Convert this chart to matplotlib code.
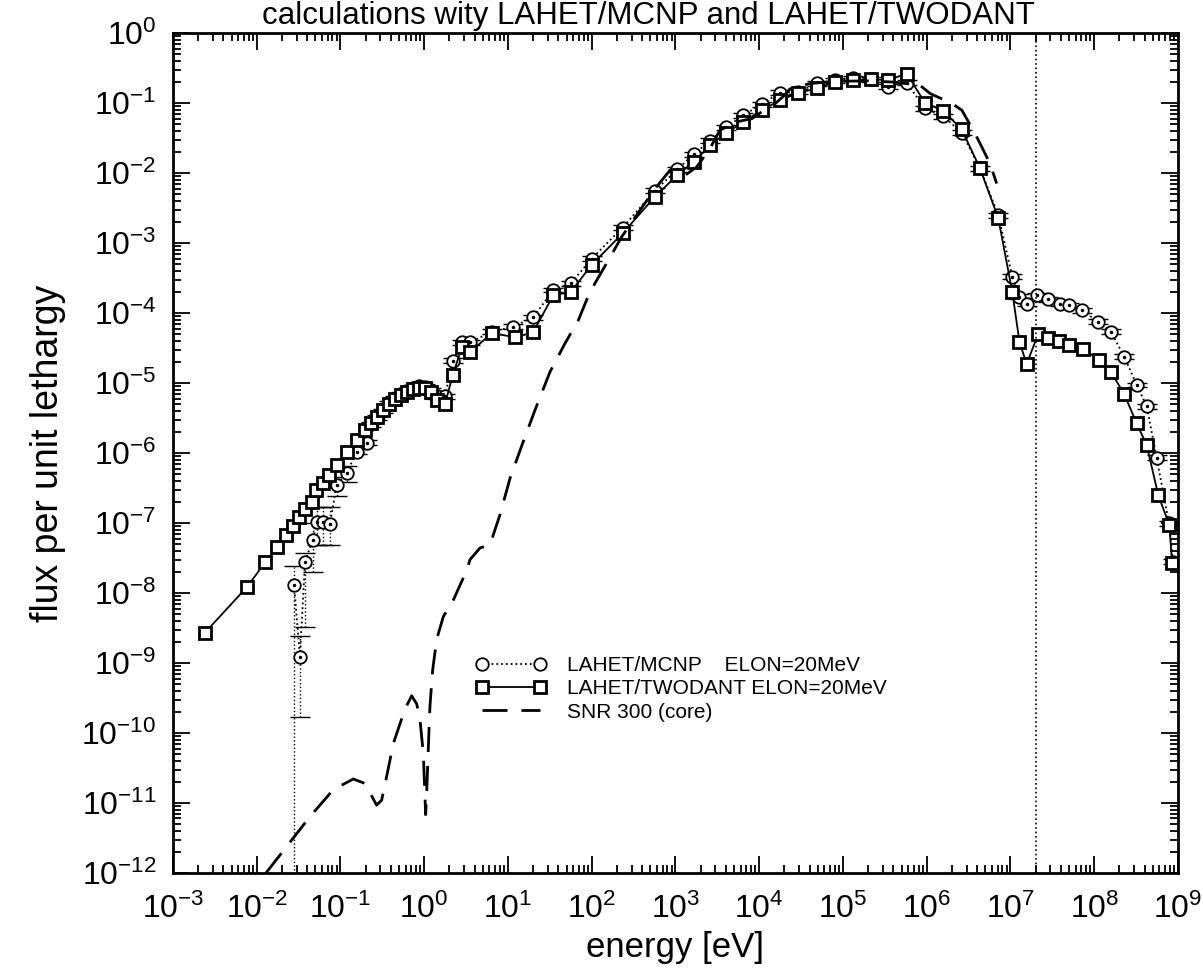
import numpy as np
import matplotlib.pyplot as plt
from matplotlib.ticker import LogLocator, NullFormatter

plt.rcParams['font.family'] = ['Liberation Sans', 'DejaVu Sans']

# LAHET/TWODANT ELON=20MeV  (energy [eV], flux per unit lethargy)
twod_e = [2.4e-3, 7.7e-3, 1.26e-2, 1.76e-2, 2.23e-2, 2.74e-2, 3.22e-2, 3.77e-2, 4.53e-2,
          5.16e-2, 6.12e-2, 7.36e-2, 9.0e-2, 0.119, 0.156, 0.196, 0.231, 0.273, 0.321,
          0.379, 0.448, 0.527, 0.622, 0.735, 0.865, 1.02, 1.2, 1.42, 1.77, 2.19, 2.82,
          3.52, 6.44, 12.1, 19.9, 34.8, 56.1, 100, 234, 569, 1050, 1660, 2580, 4010,
          6460, 1.07e4, 1.77e4, 2.93e4, 4.85e4, 8.04e4, 1.31e5, 2.14e5, 3.48e5, 5.77e5,
          9.53e5, 1.58e6, 2.62e6, 4.33e6, 7.16e6, 1.05e7, 1.28e7, 1.56e7, 2.15e7, 2.79e7,
          3.83e7, 5.05e7, 7.28e7, 1.15e8, 1.58e8, 2.29e8, 3.21e8, 4.23e8, 5.82e8, 7.9e8,
          8.5e8]
twod_f = [2.7e-9, 1.23e-8, 2.75e-8, 4.5e-8, 6.8e-8, 9.1e-8, 1.23e-7, 1.58e-7, 2.0e-7,
          2.95e-7, 3.7e-7, 4.9e-7, 6.8e-7, 1.05e-6, 1.55e-6, 2.14e-6, 2.69e-6, 3.27e-6,
          4.1e-6, 5.0e-6, 5.9e-6, 6.7e-6, 7.4e-6, 8.2e-6, 8.5e-6, 8.5e-6, 7.4e-6, 5.7e-6,
          5.0e-6, 1.3e-5, 3.3e-5, 2.77e-5, 5.2e-5, 4.5e-5, 5.3e-5, 1.8e-4, 2.0e-4, 4.9e-4,
          1.38e-3, 4.6e-3, 9.4e-3, 1.45e-2, 2.5e-2, 3.7e-2, 5.4e-2, 7.9e-2, 0.110, 0.140,
          0.162, 0.201, 0.213, 0.218, 0.213, 0.265, 0.101, 0.0776, 0.0421, 0.01167, 2.25e-3,
          2.01e-4, 3.9e-5, 1.87e-5, 5.1e-5, 4.35e-5, 4.0e-5, 3.5e-5, 3.1e-5, 2.14e-5,
          1.45e-5, 6.9e-6, 2.65e-6, 1.3e-6, 2.5e-7, 9.3e-8, 2.7e-8]

# LAHET/MCNP ELON=20MeV
mcnp_e = [2.79e-2, 3.28e-2, 3.77e-2, 4.66e-2, 5.2e-2, 6.24e-2, 7.5e-2, 9.0e-2, 0.119,
          0.156, 0.206, 0.231, 0.273, 0.321, 0.379, 0.448, 0.527, 0.622, 0.735, 0.865,
          1.02, 1.2, 1.42, 1.77, 2.19, 2.82, 3.52, 6.44, 11.6, 20, 34.8, 56.1, 100, 234,
          569, 1050, 1660, 2580, 4010, 6460, 1.07e4, 1.77e4, 2.93e4, 4.85e4, 8.04e4,
          1.31e5, 2.14e5, 3.48e5, 5.77e5, 9.53e5, 1.58e6, 2.62e6, 4.33e6, 7.16e6, 1.05e7,
          1.28e7, 1.56e7, 2.06e7, 2.83e7, 3.9e7, 5.05e7, 7.08e7, 1.12e8, 1.58e8, 2.29e8,
          3.21e8, 4.23e8, 5.56e8, 7.8e8, 8.7e8]
mcnp_f = [1.3e-8, 1.23e-9, 2.8e-8, 5.75e-8, 1.05e-7, 1.05e-7, 9.8e-8, 3.5e-7, 5.2e-7,
          1.05e-6, 1.41e-6, 2.6e-6, 3.2e-6, 4.0e-6, 5.2e-6, 6.0e-6, 6.9e-6, 7.8e-6, 8.6e-6,
          9.0e-6, 8.8e-6, 8.0e-6, 6.5e-6, 6.5e-6, 2.1e-5, 3.85e-5, 3.85e-5, 5.4e-5, 6.4e-5,
          8.7e-5, 2.14e-4, 2.65e-4, 6.0e-4, 1.67e-3, 5.6e-3, 1.13e-2, 1.87e-2, 2.9e-2,
          4.5e-2, 6.7e-2, 9.7e-2, 0.141, 0.145, 0.191, 0.213, 0.225, 0.218, 0.171, 0.195,
          0.084, 0.065, 0.0377, 0.01167, 2.5e-3, 3.3e-4, 1.71e-4, 1.37e-4, 1.81e-4, 1.57e-4,
          1.37e-4, 1.3e-4, 1.1e-4, 7.5e-5, 5.4e-5, 2.38e-5, 9.4e-6, 4.7e-6, 8.6e-7, 1.0e-7,
          2.8e-8]
# error bar ends for the low-energy MCNP points (rest ~8 %)
mcnp_lo_first = [1e-14, 1.7e-10, 3.3e-9, 2.0e-8, 4.9e-8, 4.9e-8, 4.9e-8, 2.4e-7, 3.8e-7]
mcnp_hi_first = [2.4e-8, 2.4e-9, 3.7e-8, 1.0e-7, 1.7e-7, 1.7e-7, 1.7e-7, 4.6e-7, 6.6e-7]

# SNR 300 (core)
snr_e = [1.29e-2, 4.33e-2, 8.2e-2, 0.142, 0.196, 0.270, 0.310, 0.356, 0.428, 0.589,
         0.708, 0.813, 0.889, 0.975, 1.04, 1.07, 1.12, 1.17, 1.26, 1.41, 1.69, 2.22,
         3.21, 3.52, 4.63, 6.1, 8.0, 10.6, 14.7, 21.0, 31.7, 48.0, 69.2, 87.1, 109, 158,
         228, 377, 596, 859, 1300, 1800, 2580, 3390, 5370, 8130, 1.07e4, 1.47e4, 1.94e4,
         2.33e4, 4.0e4, 8.0e4, 2.0e5, 4.0e5, 8.3e5, 1.1e6, 2.0e6, 2.63e6, 3.77e6, 4.33e6,
         5.69e6, 6.84e6]
snr_f = [1.0e-12, 6.4e-12, 1.55e-11, 2.2e-11, 1.9e-11, 9.3e-12, 1.1e-11, 2.4e-11, 7.1e-11,
         2.2e-10, 3.4e-10, 2.6e-10, 1.55e-10, 5.1e-11, 6.8e-12, 1.4e-11, 6.3e-11, 2.4e-10,
         7.9e-10, 2.2e-9, 4.6e-9, 7.9e-9, 2.1e-8, 3.0e-8, 4.4e-8, 4.9e-8, 1.3e-7, 4.4e-7,
         1.3e-6, 4.1e-6, 1.44e-5, 3.7e-5, 7.9e-5, 1.55e-4, 2.65e-4, 5.7e-4, 1.23e-3,
         2.95e-3, 6.4e-3, 1.1e-2, 9.3e-3, 1.23e-2, 2.25e-2, 4.1e-2, 5.4e-2, 6.0e-2, 7.5e-2,
         9.3e-2, 0.125, 0.16, 0.19, 0.205, 0.208, 0.2, 0.18, 0.137, 0.099, 0.079, 0.037,
         0.0265, 0.0137, 7.1e-3]

elon = 2e7

fig = plt.figure(figsize=(12.03, 9.72), dpi=100)
ax = fig.add_axes([0.1438, 0.1019, 0.8354, 0.864])

mcnp_e = np.array(mcnp_e)
mcnp_f = np.array(mcnp_f)
lo = mcnp_f * 0.92
hi = mcnp_f * 1.08
n = len(mcnp_lo_first)
lo[:n] = mcnp_lo_first
hi[:n] = mcnp_hi_first
yerr = np.vstack([mcnp_f - lo, hi - mcnp_f])

eb = ax.errorbar(mcnp_e, mcnp_f, yerr=yerr, fmt='none', ecolor='black', elinewidth=1.0,
                 capsize=7, capthick=1.0)
for c in eb[2]:
    c.set_linestyle(':')
ax.plot(mcnp_e, mcnp_f, color='black', ls=':', lw=1.3, marker='o', ms=9,
        mfc='white', mec='black', mew=1.3,
        label='LAHET/MCNP    ELON=20MeV')
ax.plot(mcnp_e, mcnp_f, ls='none', marker='.', ms=3, color='black')

ax.plot(twod_e, twod_f, color='black', ls='-', lw=1.3, marker='s', ms=8,
        mfc='white', mec='black', mew=2.0,
        label='LAHET/TWODANT ELON=20MeV')

ax.plot(snr_e, snr_f, color='black', ls=(0, (9, 5)), lw=2.0, label='SNR 300 (core)')

ax.axvline(elon, color='black', ls=':', lw=1.2)

ax.set_xscale('log')
ax.set_yscale('log')
ax.set_xlim(1e-3, 1e9)
ax.set_ylim(1e-12, 1e0)
ax.xaxis.set_major_locator(LogLocator(base=10, numticks=20))
ax.yaxis.set_major_locator(LogLocator(base=10, numticks=20))
ax.xaxis.set_minor_locator(LogLocator(base=10, subs=np.arange(2, 10), numticks=20))
ax.yaxis.set_minor_locator(LogLocator(base=10, subs=np.arange(2, 10), numticks=20))
ax.xaxis.set_minor_formatter(NullFormatter())
ax.yaxis.set_minor_formatter(NullFormatter())
ax.tick_params(which='both', direction='in', top=True, right=True, width=1.3)
ax.tick_params(which='major', length=12, labelsize=23)
ax.tick_params(axis='x', which='major', pad=15)
ax.tick_params(axis='y', which='major', pad=12)
ax.tick_params(which='minor', length=6)
for s in ax.spines.values():
    s.set_linewidth(2.0)

ax.set_xlabel('energy [eV]', fontsize=25, labelpad=4)
ax.set_ylabel('flux per unit lethargy', fontsize=27, labelpad=11)
fig.text(0.539, 0.999, 'calculations wity LAHET/MCNP and LAHET/TWODANT',
         ha='center', va='top', fontsize=22.5)

ax.legend(loc='upper left', bbox_to_anchor=(0.2925, 0.268), frameon=False, fontsize=15,
          handlelength=3.4, handletextpad=1.0, labelspacing=0.2, numpoints=2,
          borderaxespad=0)

fig.savefig('out.png', dpi=100)
